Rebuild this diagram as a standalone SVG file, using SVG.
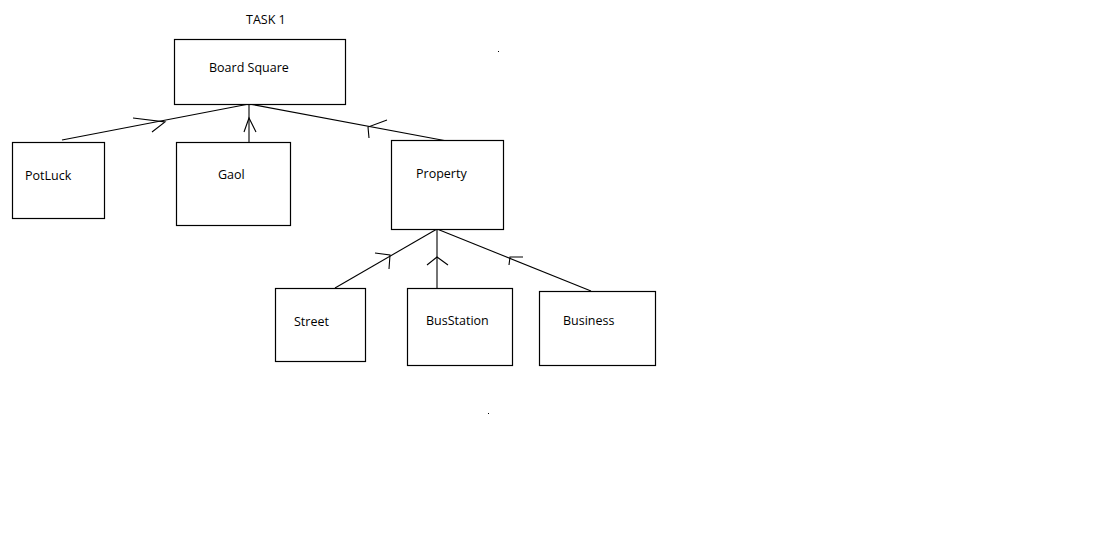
<svg xmlns="http://www.w3.org/2000/svg" width="1099" height="538" viewBox="0 0 1099 538">
<style>
.box{fill:#fff;stroke:#000;stroke-width:1.2}
.lbl{font-family:"Open Sans","Noto Sans",sans-serif;font-size:12.5px;fill:#000}
.ln{fill:none;stroke:#000;stroke-width:1.1}
</style>
<rect width="1099" height="538" fill="#fff"/>
<text class="lbl" x="246" y="24">TASK 1</text>
<g id="connectors">
<path class="ln" d="M249,104 L62,140"/>
<path class="ln" d="M133,118 L165,122 L152,132"/>
<path class="ln" d="M249,104 L249,142"/>
<path class="ln" d="M244,132 L249,118 L256,132"/>
<path class="ln" d="M249,104 L447,141"/>
<path class="ln" d="M387,120 L368,127 L369,138"/>
<path class="ln" d="M437,229 L335,288"/>
<path class="ln" d="M375,253 L390,255 L389,269"/>
<path class="ln" d="M437,229 L437,288"/>
<path class="ln" d="M427,265 L437,257 L448,265"/>
<path class="ln" d="M437,229 L591,291"/>
<path class="ln" d="M523,257 L510,257 L509,265"/>
</g>
<g id="board-square"><rect class="box" x="174.5" y="39.5" width="171" height="65"/><text class="lbl" x="209" y="72">Board Square</text></g>
<g id="potluck"><rect class="box" x="12.5" y="142.5" width="92" height="76"/><text class="lbl" x="25" y="180">PotLuck</text></g>
<g id="gaol"><rect class="box" x="176.5" y="142.5" width="114" height="83"/><text class="lbl" x="218" y="179">Gaol</text></g>
<g id="property"><rect class="box" x="391.5" y="140.5" width="112" height="89"/><text class="lbl" x="416" y="178">Property</text></g>
<g id="street"><rect class="box" x="275.5" y="288.5" width="90" height="73"/><text class="lbl" x="294" y="326">Street</text></g>
<g id="busstation"><rect class="box" x="407.5" y="288.5" width="105" height="77"/><text class="lbl" x="426" y="325">BusStation</text></g>
<g id="business"><rect class="box" x="539.5" y="291.5" width="116" height="74"/><text class="lbl" x="563" y="325">Business</text></g>
<rect x="498" y="51" width="1" height="1" fill="#000"/>
<rect x="488" y="413" width="1" height="1" fill="#000"/>
</svg>
